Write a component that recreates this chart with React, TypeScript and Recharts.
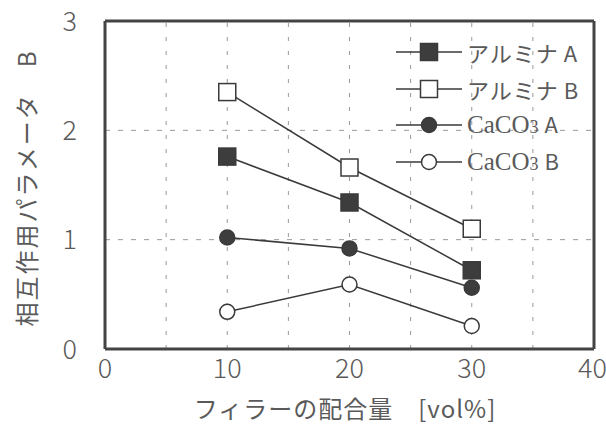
import React from "react";
import { LineChart, Line, XAxis, YAxis, ReferenceLine } from "recharts";

const xValues = [10, 20, 30];
const aluminaA = [1.76, 1.34, 0.72];
const aluminaB = [2.35, 1.66, 1.1];
const caco3A = [1.02, 0.92, 0.56];
const caco3B = [0.34, 0.59, 0.21];

const xTicks = [0, 10, 20, 30, 40];
const yTicks = [0, 1, 2, 3];
const gridX = [5, 10, 15, 20, 25, 30, 35];
const gridY = [1, 2];

const seriesNames = ["アルミナA", "アルミナB", "CaCO3A", "CaCO3B"];
const xTitle = "フィラーの配合量　[vol%]";
const yTitle = "相互作用パラメータ　B";

const data = xValues.map((x, i) => ({
  x,
  a: aluminaA[i],
  b: aluminaB[i],
  c: caco3A[i],
  d: caco3B[i],
}));

const INK = "#3a3a3a";
const TXT = "#5a5a5a";
const JP = "'Noto Sans CJK JP', 'Noto Sans', sans-serif";

type Shape = "fsq" | "osq" | "fci" | "oci";

const markerEl = (shape: Shape, cx: number, cy: number, key?: string) => {
  const filled = shape === "fsq" || shape === "fci";
  const fill = filled ? "#3d3d3d" : "#fff";
  if (shape === "fsq" || shape === "osq") {
    return (
      <rect key={key} x={cx - 8.5} y={cy - 8.5} width={17} height={17} fill={fill} stroke={INK} strokeWidth={1.5} />
    );
  }
  return <circle key={key} cx={cx} cy={cy} r={7.5} fill={fill} stroke={INK} strokeWidth={1.5} />;
};

const makeDot = (shape: Shape) => (props: any) => {
  const { cx, cy, index } = props;
  if (cx == null || cy == null) return <g key={`e-${shape}-${index}`} />;
  return markerEl(shape, cx, cy, `${shape}-${index}`);
};

const shapes: Shape[] = ["fsq", "osq", "fci", "oci"];

const renderLabelText = (name: string) => {
  if (name.startsWith("CaCO3")) {
    const suffix = name.slice(5);
    return (
      <span>
        <span style={{ fontFamily: "'Liberation Serif', serif", fontSize: 25 }}>CaCO</span>
        <span style={{ fontFamily: "'Liberation Serif', serif", fontSize: 18 }}>3</span>
        <span style={{ marginLeft: 6 }}>{suffix}</span>
      </span>
    );
  }
  const base = name.slice(0, name.length - 1);
  const last = name.slice(-1);
  return (
    <span style={{ letterSpacing: 1 }}>
      {base}
      <span style={{ marginLeft: 5 }}>{last}</span>
    </span>
  );
};

const LegendBox = () => (
  <div
    style={{
      position: "absolute",
      left: 396,
      top: 34,
      fontFamily: JP,
      color: TXT,
      fontSize: 22,
      lineHeight: "24px",
    }}
  >
    {seriesNames.map((n, i) => (
      <div key={n} style={{ display: "flex", alignItems: "center", height: 36.5, whiteSpace: "nowrap" }}>
        <svg width={66} height={24} style={{ marginRight: 5, flex: "none" }}>
          <line x1={0} y1={12} x2={66} y2={12} stroke={INK} strokeWidth={1.5} />
          {markerEl(shapes[i], 33, 12)}
        </svg>
        {renderLabelText(n)}
      </div>
    ))}
  </div>
);

export default function App() {
  return (
    <div style={{ position: "absolute", left: 0, top: 0, width: 606, height: 425, background: "#fff" }}>
      <LineChart width={606} height={425} data={data} margin={{ top: 21, right: 12, left: 0, bottom: 0 }}>
        <XAxis
          dataKey="x"
          type="number"
          domain={[0, 40]}
          ticks={xTicks}
          axisLine={false}
          tickLine={false}
          tickSize={0}
          tickMargin={10}
          height={76}
          tick={{ fill: TXT, fontSize: 27, fontFamily: JP, fontWeight: 300 }}
          label={{
            content: () => (
              <text
                x={345}
                y={418}
                textAnchor="middle"
                fill={TXT}
                fontSize={24}
                letterSpacing={1}
                fontFamily={JP}
              >
                {xTitle}
              </text>
            ),
          }}
        />
        <YAxis
          type="number"
          domain={[0, 3]}
          ticks={yTicks}
          axisLine={false}
          tickLine={false}
          tickSize={0}
          tickMargin={28}
          width={105}
          tick={{ fill: TXT, fontSize: 27, fontFamily: JP, fontWeight: 300 }}
          label={{
            content: () => {
              const cx = 25;
              const cy = 188;
              return (
                <text
                  x={cx}
                  y={cy}
                  transform={`rotate(-90 ${cx} ${cy})`}
                  textAnchor="middle"
                  dominantBaseline="central"
                  fill={TXT}
                  fontSize={24}
                  letterSpacing={2}
                  fontFamily={JP}
                >
                  {yTitle}
                </text>
              );
            },
          }}
        />
        {gridX.map((g) => (
          <ReferenceLine key={`gx${g}`} x={g} stroke="#999" strokeWidth={1} strokeDasharray="4 10" />
        ))}
        {gridY.map((g) => (
          <ReferenceLine key={`gy${g}`} y={g} stroke="#999" strokeWidth={1} strokeDasharray="5 8" />
        ))}
        <ReferenceLine x={0} stroke="#444" strokeWidth={3} ifOverflow="visible" />
        <ReferenceLine x={40} stroke="#444" strokeWidth={3} ifOverflow="visible" />
        <ReferenceLine y={0} stroke="#444" strokeWidth={3} ifOverflow="visible" />
        <ReferenceLine y={3} stroke="#444" strokeWidth={3} ifOverflow="visible" />
        <Line dataKey="a" stroke={INK} strokeWidth={1.5} dot={makeDot("fsq")} isAnimationActive={false} />
        <Line dataKey="b" stroke={INK} strokeWidth={1.5} dot={makeDot("osq")} isAnimationActive={false} />
        <Line dataKey="c" stroke={INK} strokeWidth={1.5} dot={makeDot("fci")} isAnimationActive={false} />
        <Line dataKey="d" stroke={INK} strokeWidth={1.5} dot={makeDot("oci")} isAnimationActive={false} />
      </LineChart>
      <LegendBox />
    </div>
  );
}
